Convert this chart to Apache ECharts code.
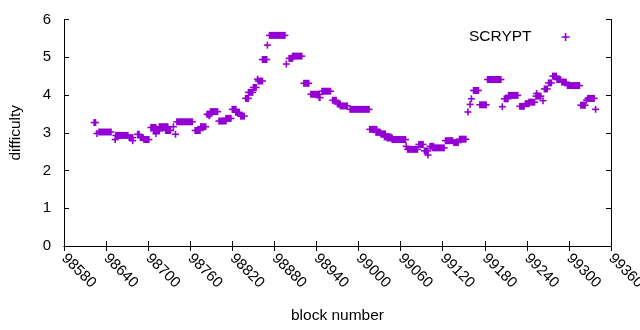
<!DOCTYPE html>
<html>
<head>
<meta charset="utf-8">
<title>SCRYPT difficulty</title>
<script src="https://cdn.jsdelivr.net/npm/echarts@6/dist/echarts.min.js"></script>
<style>
    html, body { margin: 0; padding: 0; background: #fff; }
    #chart { width: 640px; height: 330px; }
</style>
</head>
<body>
<div id="chart"></div>
<script>
// 坐标轴范围
var xMin = 98580, xMax = 99360, xStep = 60;
var yMin = 0, yMax = 6, yStep = 1;

// 每一段：起始区块、结束区块、难度（同一难度连续出块会连成一块）
var runStart = [98623, 98627, 98630, 98653, 98654, 98673, 98678, 98685, 98689, 98694,
    98704, 98708, 98711, 98716, 98725, 98736, 98739, 98741, 98767, 98775,
    98784, 98787, 98789, 98801, 98811, 98820, 98825, 98832, 98839, 98843,
    98850, 98856, 98857, 98863, 98870, 98873, 98897, 98901, 98906, 98922,
    98932, 98944, 98948, 98963, 98970, 98974, 98988, 99016, 99025, 99032,
    99037, 99041, 99048, 99068, 99070, 99086, 99094, 99099, 99102, 99106,
    99124, 99136, 99144, 99156, 99159, 99161, 99164, 99173, 99184, 99205,
    99208, 99214, 99230, 99238, 99243, 99254, 99253, 99263, 99265, 99271,
    99277, 99283, 99290, 99298, 99317, 99325, 99327, 99338];
var runEnd = [98625, 98627, 98647, 98653, 98671, 98678, 98678, 98687, 98693, 98701,
    98711, 98716, 98711, 98728, 98732, 98736, 98739, 98763, 98774, 98782,
    98789, 98787, 98799, 98811, 98818, 98825, 98830, 98837, 98843, 98849,
    98854, 98856, 98863, 98869, 98870, 98895, 98897, 98906, 98919, 98929,
    98944, 98945, 98960, 98968, 98974, 98984, 99015, 99026, 99031, 99038,
    99046, 99048, 99067, 99068, 99084, 99092, 99099, 99099, 99107, 99122,
    99134, 99142, 99153, 99156, 99159, 99161, 99171, 99182, 99203, 99205,
    99213, 99227, 99236, 99243, 99251, 99254, 99260, 99263, 99269, 99275,
    99282, 99288, 99296, 99315, 99323, 99325, 99336, 99338];
var runDiff = [3.27, 2.98, 3.02, 2.82, 2.93, 2.87, 2.79, 2.96, 2.87, 2.82,
    3.14, 3.05, 2.98, 3.16, 3.06, 3.16, 2.96, 3.29, 3.06, 3.16,
    3.49, 3.45, 3.56, 3.31, 3.38, 3.62, 3.54, 3.44, 3.91, 4.07,
    4.20, 4.42, 4.37, 4.94, 5.32, 5.58, 4.82, 4.97, 5.03, 4.31,
    4.02, 3.93, 4.10, 3.86, 3.76, 3.71, 3.62, 3.09, 3.01, 2.97,
    2.89, 2.86, 2.82, 2.64, 2.56, 2.69, 2.52, 2.41, 2.64, 2.60,
    2.79, 2.74, 2.83, 3.55, 3.75, 3.90, 4.12, 3.74, 4.41, 3.69,
    3.90, 3.99, 3.70, 3.77, 3.81, 4.04, 3.97, 3.85, 4.16, 4.32,
    4.50, 4.41, 4.34, 4.25, 3.73, 3.86, 3.91, 3.62];

var seriesName = "SCRYPT";
var pointColor = "#9400d3";
var fontName = "Liberation Sans";

var runData = [];
for (var i = 0; i < runStart.length; i++) {
    runData.push([runStart[i], runEnd[i], runDiff[i]]);
}

// 画"+"号，连续的区块连成实心条
function renderRun(params, api) {
    var p0 = api.coord([api.value(0), api.value(2)]);
    var p1 = api.coord([api.value(1), api.value(2)]);
    var color = api.visual("color");
    var w = p1[0] - p0[0];
    return {
        type: "group",
        children: [
            { type: "rect", shape: { x: p0[0] - 0.8, y: p0[1] - 3.5, width: w + 1.6, height: 7 }, style: { fill: color } },
            { type: "rect", shape: { x: p0[0] - 3.5, y: p0[1] - 0.8, width: w + 7, height: 1.6 }, style: { fill: color } }
        ]
    };
}

var axisLine = { show: true, lineStyle: { color: "#000", width: 1 } };
var axisTick = { show: true, inside: true, length: 5, lineStyle: { color: "#000" } };

var myChart = echarts.init(document.getElementById("chart"), null, { renderer: "canvas" });
myChart.setOption({
    animation: false,
    textStyle: { fontFamily: fontName, color: "#000" },
    // 不让 v6 为了装下标签去缩小绘图区
    grid: { left: 64, right: 29, top: 19.5, bottom: 84, containLabel: false, outerBoundsMode: "none" },
    legend: {
        data: [{ name: seriesName, icon: "path://M4,0H6V4H10V6H6V10H4V6H0V4H4Z" }],
        left: 464,
        top: 24,
        align: "right",
        itemWidth: 8,
        itemHeight: 8,
        textStyle: { fontFamily: fontName, fontSize: 15.5, color: "#000", padding: [0, 25, 0, 0] }
    },
    xAxis: [{
        type: "value",
        min: xMin,
        max: xMax,
        interval: xStep,
        name: "block number",
        nameLocation: "middle",
        nameGap: 62,
        nameTextStyle: { fontFamily: fontName, fontSize: 15.5, color: "#000" },
        axisLine: axisLine,
        axisTick: axisTick,
        splitLine: { show: false },
        axisLabel: {
            rotate: -45, margin: 10, fontSize: 15, color: "#000", fontFamily: fontName,
            formatter: function (v) { return String(v); }
        }
    }, {
        type: "value",
        position: "top",
        min: xMin,
        max: xMax,
        interval: xStep,
        axisLine: axisLine,
        axisTick: axisTick,
        axisLabel: { show: false },
        splitLine: { show: false }
    }],
    yAxis: [{
        type: "value",
        min: yMin,
        max: yMax,
        interval: yStep,
        name: "difficulty",
        nameLocation: "middle",
        nameGap: 40,
        nameTextStyle: { fontFamily: fontName, fontSize: 15.5, color: "#000" },
        axisLine: axisLine,
        axisTick: axisTick,
        splitLine: { show: false },
        axisLabel: { margin: 13, fontSize: 15, color: "#000", fontFamily: fontName }
    }, {
        type: "value",
        position: "right",
        min: yMin,
        max: yMax,
        interval: yStep,
        axisLine: axisLine,
        axisTick: axisTick,
        axisLabel: { show: false },
        splitLine: { show: false }
    }],
    series: [{
        name: seriesName,
        type: "custom",
        renderItem: renderRun,
        itemStyle: { color: pointColor },
        encode: { x: [0, 1], y: 2 },
        data: runData
    }]
});
</script>
</body>
</html>
